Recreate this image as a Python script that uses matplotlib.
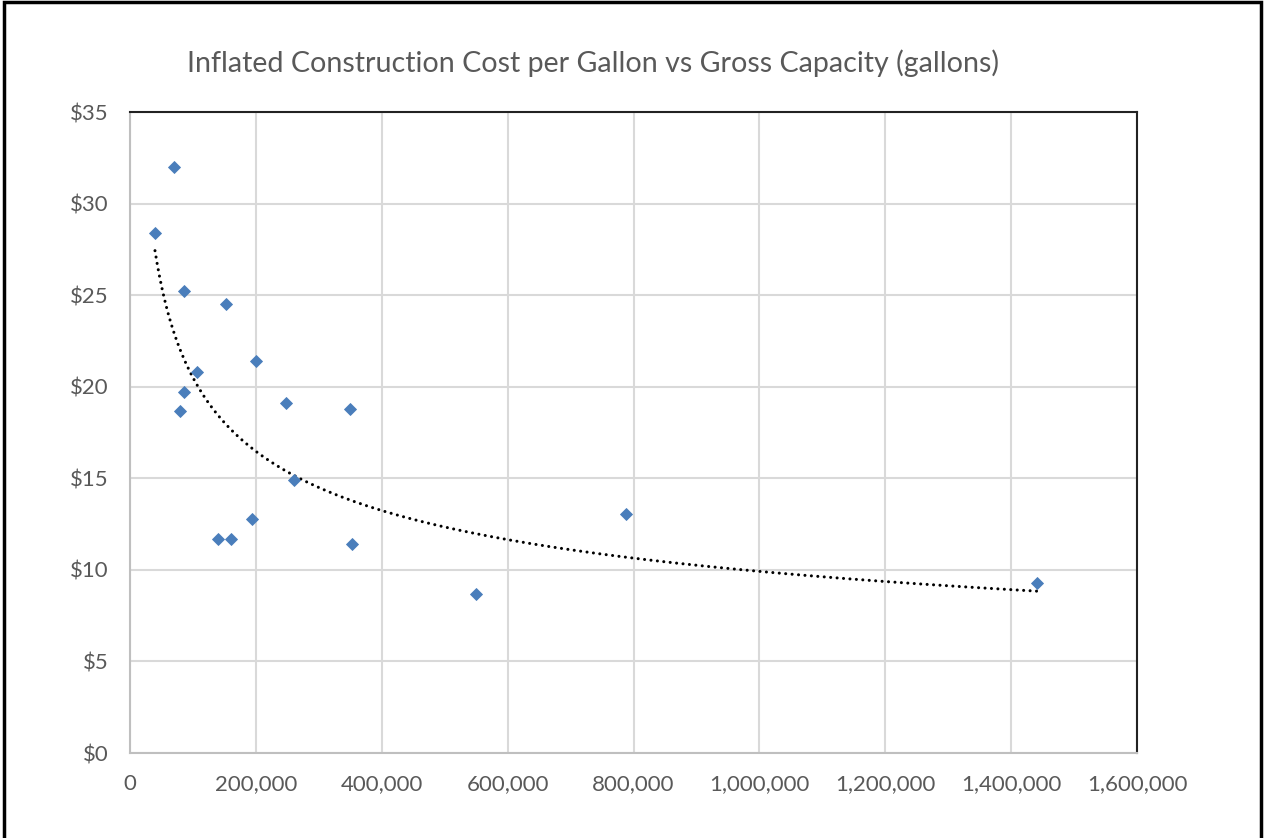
import numpy as np
import matplotlib.pyplot as plt
from matplotlib.ticker import FuncFormatter

# gross capacity (gallons) and inflated construction cost per gallon ($)
capacity = [39700, 69900, 85800, 152500, 106400, 85800, 79400, 200200, 247800,
            349500, 260500, 193800, 139800, 160400, 352700, 549600, 787900, 1440800]
cost = [28.4, 32.0, 25.2, 24.5, 20.8, 19.7, 18.7, 21.4, 19.1,
        18.8, 14.9, 12.8, 11.7, 11.7, 11.4, 8.7, 13.05, 9.3]

x_ticks = [0, 200000, 400000, 600000, 800000, 1000000, 1200000, 1400000, 1600000]
y_ticks = [0, 5, 10, 15, 20, 25, 30, 35]

title = "Inflated Construction Cost per Gallon vs Gross Capacity (gallons)"

plt.rcParams['font.family'] = ['Lato', 'DejaVu Sans']
grey_txt = '#595959'

fig = plt.figure(figsize=(12.64, 8.38), dpi=100)
ax = fig.add_axes([130/1264, 1-753/838, (1137-130)/1264, (753-112)/838])

# power trendline (least squares on ln x, ln y)
xs = np.array(capacity, dtype=float)
ys = np.array(cost)
k, c = np.polyfit(np.log(xs), np.log(ys), 1)
xt = np.linspace(xs.min(), xs.max(), 400)
ax.plot(xt, np.exp(c) * xt**k, color='black', lw=2.2,
        linestyle=(0, (0.01, 2.1)), dash_capstyle='round', zorder=3)

ax.plot(capacity, cost, linestyle='none', marker='D', ms=6.2,
        color='#4A7EBB', mec='#4A7EBB', mew=0.6, zorder=4)

ax.set_xlim(0, 1600000)
ax.set_ylim(0, 35)
ax.set_xticks(x_ticks)
ax.set_yticks(y_ticks)
ax.xaxis.set_major_formatter(FuncFormatter(lambda v, p: f"{int(v):,}"))
ax.yaxis.set_major_formatter(FuncFormatter(lambda v, p: f"${int(v)}"))
ax.tick_params(length=0, labelsize=16, labelcolor=grey_txt)
ax.tick_params(axis='x', pad=15)
ax.tick_params(axis='y', pad=15.5)
ax.grid(True, color='#D9D9D9', lw=1.5)
ax.set_axisbelow(True)

for s in ['left', 'bottom']:
    ax.spines[s].set_color('#BFBFBF')
    ax.spines[s].set_linewidth(1.5)
for s in ['top', 'right']:
    ax.spines[s].set_color('#222222')
    ax.spines[s].set_linewidth(1.5)

fig.text(593/1264, 1-63/838, title, ha='center', va='center',
         fontsize=20.6, color=grey_txt)

# chart border
border = plt.Rectangle((0.003, -0.01), 0.995, 1.008, transform=fig.transFigure,
                       fill=False, edgecolor='black', lw=2.5)
fig.patches.append(border)

fig.savefig('out.png', dpi=100)
